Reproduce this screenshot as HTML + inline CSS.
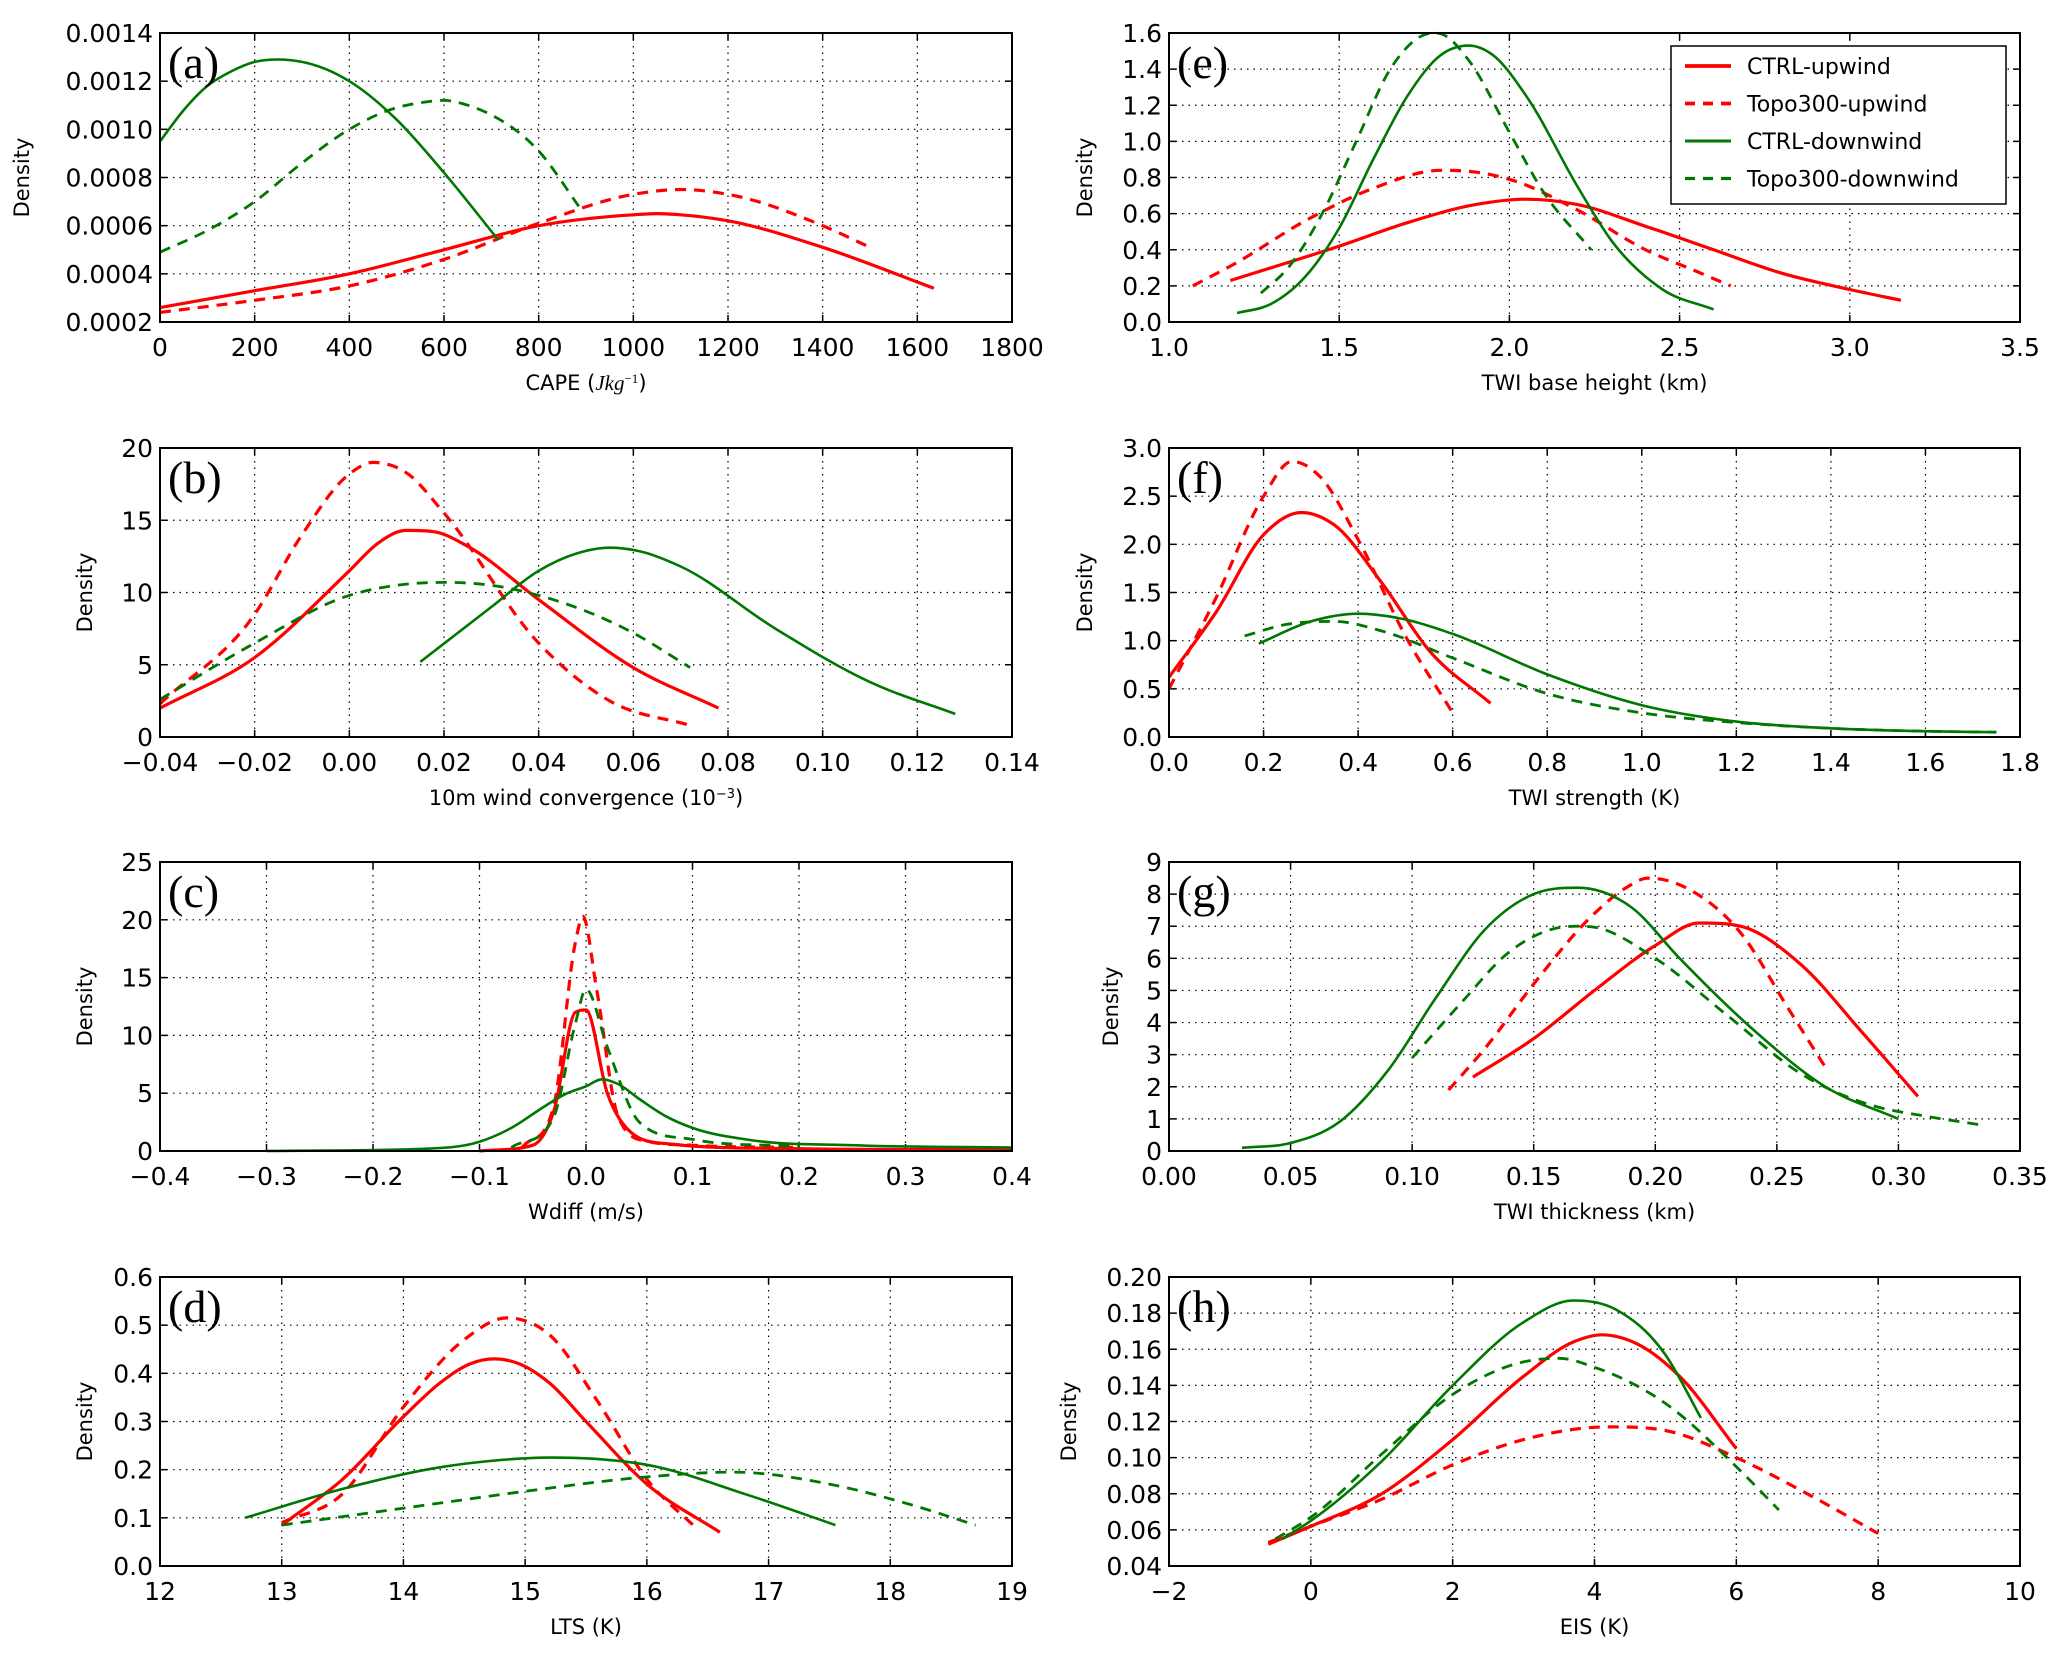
<!DOCTYPE html>
<html><head><meta charset="utf-8">
<style>
html,body{margin:0;padding:0;background:#fff;}
svg{display:block;font-family:"DejaVu Sans","Liberation Sans",sans-serif;}
</style></head>
<body>
<svg id="fig" width="2067" height="1654" viewBox="0 0 2067 1654" xmlns="http://www.w3.org/2000/svg"></svg>
<script>
// ---- data ----
const seriesNames = ["CTRL-upwind","Topo300-upwind","CTRL-downwind","Topo300-downwind"];
// panel a: CAPE
const aCtrlUpX=[0,200,400,600,800,1000,1050,1100,1200,1400,1635];
const aCtrlUpY=[0.00026,0.00033,0.00040,0.00050,0.00060,0.000645,0.00065,0.000645,0.00062,0.00051,0.00034];
const aTopoUpX=[0,200,400,600,800,1000,1100,1200,1400,1500];
const aTopoUpY=[0.00024,0.00029,0.00035,0.00046,0.00061,0.00073,0.00075,0.00073,0.00060,0.00051];
const aCtrlDnX=[0,50,100,150,200,250,300,350,400,500,600,715];
const aCtrlDnY=[0.00095,0.00108,0.00118,0.00124,0.00128,0.00129,0.00128,0.00125,0.00120,0.00104,0.00082,0.00054];
const aTopoDnX=[0,100,200,300,400,500,550,600,650,700,800,885];
const aTopoDnY=[0.00049,0.00058,0.00070,0.00086,0.00100,0.00109,0.00111,0.00112,0.00110,0.00106,0.00091,0.00068];
// panel b: wind convergence
const bCtrlUpX=[-0.04,-0.02,0,0.006,0.012,0.018,0.025,0.04,0.06,0.078];
const bCtrlUpY=[2,5.5,11.5,13.4,14.3,14.2,13.2,9.5,4.8,2];
const bTopoUpX=[-0.04,-0.02,-0.01,0,0.005,0.012,0.02,0.04,0.055,0.072];
const bTopoUpY=[2.3,8.5,14,18.2,19,18.3,15.5,6.5,2.5,0.8];
const bCtrlDnX=[0.015,0.03,0.04,0.048,0.055,0.062,0.07,0.09,0.11,0.128];
const bCtrlDnY=[5.2,9,11.5,12.7,13.1,12.8,11.8,7.5,3.8,1.6];
const bTopoDnX=[-0.04,-0.02,0,0.01,0.02,0.03,0.04,0.06,0.072];
const bTopoDnY=[2.6,6.5,9.8,10.5,10.7,10.5,9.8,7.2,4.8];
// panel c: Wdiff
const cCtrlUpX=[-0.1,-0.05,-0.03,-0.01,0,0.02,0.04,0.08,0.2,0.4];
const cCtrlUpY=[0,0.5,3.5,12,12.2,5,1.8,0.6,0.2,0.1];
const cTopoUpX=[-0.06,-0.03,-0.01,-0.003,0.01,0.03,0.06,0.1,0.2];
const cTopoUpY=[0.3,4,18,20.3,14,3,0.8,0.5,0.3];
const cCtrlDnX=[-0.3,-0.15,-0.1,-0.07,-0.04,-0.02,0,0.015,0.03,0.05,0.075,0.1,0.15,0.25,0.4];
const cCtrlDnY=[0,0.2,0.8,2.0,3.8,4.9,5.6,6.2,5.8,4.5,3.0,2,1,0.5,0.3];
const cTopoDnX=[-0.07,-0.03,-0.01,0,0.02,0.05,0.1,0.2];
const cTopoDnY=[0.3,3,11,14,9,2.5,1,0.4];
// panel d: LTS
const dCtrlUpX=[13,13.5,14,14.3,14.55,14.75,14.95,15.2,15.5,16,16.6];
const dCtrlUpY=[0.085,0.18,0.31,0.38,0.42,0.43,0.42,0.38,0.3,0.17,0.07];
const dTopoUpX=[13,13.5,14,14.5,14.85,15.2,15.6,16,16.4];
const dTopoUpY=[0.09,0.15,0.33,0.47,0.515,0.48,0.34,0.18,0.08];
const dCtrlDnX=[12.7,13.5,14.3,14.8,15.2,15.6,16,16.8,17.55];
const dCtrlDnY=[0.1,0.16,0.205,0.22,0.225,0.222,0.21,0.15,0.085];
const dTopoDnX=[13,14,15,16,16.7,17.5,18.2,18.7];
const dTopoDnY=[0.085,0.12,0.155,0.185,0.195,0.17,0.125,0.085];
// panel e: TWI base height
const eCtrlUpX=[1.18,1.3,1.5,1.7,1.9,2.05,2.2,2.4,2.6,2.8,3.0,3.15];
const eCtrlUpY=[0.23,0.3,0.42,0.55,0.65,0.68,0.65,0.53,0.4,0.27,0.18,0.12];
const eTopoUpX=[1.07,1.2,1.4,1.6,1.8,1.9,2.0,2.2,2.4,2.55,2.65];
const eTopoUpY=[0.2,0.33,0.56,0.74,0.84,0.83,0.79,0.62,0.4,0.28,0.2];
const eCtrlDnX=[1.2,1.3,1.4,1.5,1.6,1.7,1.8,1.88,1.95,2.05,2.2,2.3,2.45,2.6];
const eCtrlDnY=[0.05,0.1,0.25,0.52,0.9,1.25,1.48,1.53,1.48,1.25,0.75,0.45,0.18,0.07];
const eTopoDnX=[1.27,1.35,1.45,1.55,1.65,1.75,1.78,1.8,1.88,2.0,2.1,2.24];
const eTopoDnY=[0.16,0.3,0.6,1.0,1.4,1.59,1.6,1.595,1.45,1.05,0.72,0.4];
// panel f: TWI strength
const fCtrlUpX=[0,0.1,0.2,0.28,0.35,0.45,0.55,0.68];
const fCtrlUpY=[0.62,1.3,2.1,2.33,2.2,1.6,0.9,0.35];
const fTopoUpX=[0,0.1,0.2,0.26,0.32,0.4,0.5,0.6];
const fTopoUpY=[0.5,1.45,2.5,2.86,2.7,2.05,1.05,0.25];
const fCtrlDnX=[0.19,0.3,0.4,0.5,0.6,0.8,1.0,1.2,1.4,1.6,1.75];
const fCtrlDnY=[0.97,1.2,1.28,1.22,1.07,0.65,0.33,0.16,0.09,0.06,0.05];
const fTopoDnX=[0.16,0.25,0.35,0.45,0.6,0.8,1.0,1.2,1.4,1.6,1.75];
const fTopoDnY=[1.05,1.17,1.2,1.1,0.82,0.45,0.25,0.15,0.09,0.06,0.05];
// panel g: TWI thickness
const gCtrlUpX=[0.125,0.15,0.175,0.2,0.218,0.235,0.26,0.285,0.308];
const gCtrlUpY=[2.3,3.5,5.0,6.4,7.1,7.0,5.8,3.7,1.7];
const gTopoUpX=[0.115,0.13,0.15,0.175,0.188,0.197,0.206,0.215,0.235,0.255,0.27];
const gTopoUpY=[1.9,3.2,5.2,7.4,8.2,8.5,8.4,8.1,6.8,4.4,2.6];
const gCtrlDnX=[0.03,0.05,0.07,0.09,0.11,0.13,0.15,0.168,0.19,0.21,0.24,0.27,0.3];
const gCtrlDnY=[0.1,0.25,0.9,2.5,4.8,6.9,8.0,8.2,7.6,6.0,3.8,2.0,1.0];
const gTopoDnX=[0.1,0.12,0.14,0.16,0.168,0.175,0.2,0.23,0.26,0.29,0.31,0.335];
const gTopoDnY=[2.9,4.6,6.2,6.95,7.0,6.97,6.0,4.2,2.4,1.4,1.1,0.8];
// panel h: EIS
const hCtrlUpX=[-0.6,0,1,2,3,3.7,4.1,4.6,5.2,6];
const hCtrlUpY=[0.052,0.062,0.08,0.11,0.145,0.164,0.168,0.163,0.145,0.105];
const hTopoUpX=[-0.6,0,1,2,3,4.2,5,6,7,8];
const hTopoUpY=[0.053,0.062,0.077,0.096,0.11,0.117,0.115,0.1,0.08,0.058];
const hCtrlDnX=[-0.4,0,1,2,3,3.7,4.3,5,5.5];
const hCtrlDnY=[0.055,0.065,0.098,0.14,0.175,0.187,0.182,0.157,0.122];
const hTopoDnX=[-0.5,0,1,2,3,3.5,4,5,6,6.6];
const hTopoDnY=[0.055,0.067,0.102,0.135,0.153,0.155,0.15,0.13,0.095,0.071];
// tick labels
const aXTicks=["0","200","400","600","800","1000","1200","1400","1600","1800"];
const aYTicks=["0.0002","0.0004","0.0006","0.0008","0.0010","0.0012","0.0014"];
const bXTicks=["\u22120.04","\u22120.02","0.00","0.02","0.04","0.06","0.08","0.10","0.12","0.14"];
const bYTicks=["0","5","10","15","20"];
const cXTicks=["\u22120.4","\u22120.3","\u22120.2","\u22120.1","0.0","0.1","0.2","0.3","0.4"];
const cYTicks=["0","5","10","15","20","25"];
const dXTicks=["12","13","14","15","16","17","18","19"];
const dYTicks=["0.0","0.1","0.2","0.3","0.4","0.5","0.6"];
const eXTicks=["1.0","1.5","2.0","2.5","3.0","3.5"];
const eYTicks=["0.0","0.2","0.4","0.6","0.8","1.0","1.2","1.4","1.6"];
const fXTicks=["0.0","0.2","0.4","0.6","0.8","1.0","1.2","1.4","1.6","1.8"];
const fYTicks=["0.0","0.5","1.0","1.5","2.0","2.5","3.0"];
const gXTicks=["0.00","0.05","0.10","0.15","0.20","0.25","0.30","0.35"];
const gYTicks=["0","1","2","3","4","5","6","7","8","9"];
const hXTicks=["\u22122","0","2","4","6","8","10"];
const hYTicks=["0.04","0.06","0.08","0.10","0.12","0.14","0.16","0.18","0.20"];

const NS="http://www.w3.org/2000/svg";
const svg=document.getElementById('fig');
function mk(tag,attrs,parent){const e=document.createElementNS(NS,tag);for(const k in attrs)e.setAttribute(k,attrs[k]);(parent||svg).appendChild(e);return e;}
function num(s){return parseFloat(s.replace('\u2212','-'));}

const colors=["#ff0000","#ff0000","#007700","#007700"];
const dashes=[null,"11,8",null,"11,8"];
const widths=[3.2,3.2,2.6,2.8];

const panels=[
 {id:"a",x0:160,x1:1012,y0:33,y1:322,xt:aXTicks,yt:aYTicks,xl:'CAPE (<tspan font-family="Liberation Serif" font-style="italic">Jkg</tspan><tspan font-family="Liberation Serif" baseline-shift="super" font-size="13">\u22121</tspan>)',yl:29,
  s:[[aCtrlUpX,aCtrlUpY],[aTopoUpX,aTopoUpY],[aCtrlDnX,aCtrlDnY],[aTopoDnX,aTopoDnY]]},
 {id:"b",x0:160,x1:1012,y0:448,y1:737,xt:bXTicks,yt:bYTicks,xl:'10m wind convergence (10<tspan baseline-shift="super" font-size="13">\u22123</tspan>)',yl:92,
  s:[[bCtrlUpX,bCtrlUpY],[bTopoUpX,bTopoUpY],[bCtrlDnX,bCtrlDnY],[bTopoDnX,bTopoDnY]]},
 {id:"c",x0:160,x1:1012,y0:862,y1:1151,xt:cXTicks,yt:cYTicks,xl:'Wdiff (m/s)',yl:92,
  s:[[cCtrlUpX,cCtrlUpY],[cTopoUpX,cTopoUpY],[cCtrlDnX,cCtrlDnY],[cTopoDnX,cTopoDnY]]},
 {id:"d",x0:160,x1:1012,y0:1277,y1:1566,xt:dXTicks,yt:dYTicks,xl:'LTS (K)',yl:92,
  s:[[dCtrlUpX,dCtrlUpY],[dTopoUpX,dTopoUpY],[dCtrlDnX,dCtrlDnY],[dTopoDnX,dTopoDnY]]},
 {id:"e",x0:1169,x1:2020,y0:33,y1:322,xt:eXTicks,yt:eYTicks,xl:'TWI base height (km)',yl:1092,legend:true,
  s:[[eCtrlUpX,eCtrlUpY],[eTopoUpX,eTopoUpY],[eCtrlDnX,eCtrlDnY],[eTopoDnX,eTopoDnY]]},
 {id:"f",x0:1169,x1:2020,y0:448,y1:737,xt:fXTicks,yt:fYTicks,xl:'TWI strength (K)',yl:1092,
  s:[[fCtrlUpX,fCtrlUpY],[fTopoUpX,fTopoUpY],[fCtrlDnX,fCtrlDnY],[fTopoDnX,fTopoDnY]]},
 {id:"g",x0:1169,x1:2020,y0:862,y1:1151,xt:gXTicks,yt:gYTicks,xl:'TWI thickness (km)',yl:1118,
  s:[[gCtrlUpX,gCtrlUpY],[gTopoUpX,gTopoUpY],[gCtrlDnX,gCtrlDnY],[gTopoDnX,gTopoDnY]]},
 {id:"h",x0:1169,x1:2020,y0:1277,y1:1566,xt:hXTicks,yt:hYTicks,xl:'EIS (K)',yl:1076,
  s:[[hCtrlUpX,hCtrlUpY],[hTopoUpX,hTopoUpY],[hCtrlDnX,hCtrlDnY],[hTopoDnX,hTopoDnY]]}
];

// monotone cubic Hermite (no overshoot)
function smoothPath(pts){
  const n=pts.length;
  if(n<2)return"";
  const m=[];
  for(let i=0;i<n;i++){
    if(i===0) m.push((pts[1][1]-pts[0][1])/(pts[1][0]-pts[0][0]));
    else if(i===n-1) m.push((pts[n-1][1]-pts[n-2][1])/(pts[n-1][0]-pts[n-2][0]));
    else{
      const d0=(pts[i][1]-pts[i-1][1])/(pts[i][0]-pts[i-1][0]);
      const d1=(pts[i+1][1]-pts[i][1])/(pts[i+1][0]-pts[i][0]);
      if(d0*d1<=0){m.push(0);continue;}
      const h0=pts[i][0]-pts[i-1][0],h1=pts[i+1][0]-pts[i][0];
      let s=(d0*h1+d1*h0)/(h0+h1);
      const lim=3*Math.min(Math.abs(d0),Math.abs(d1));
      if(Math.abs(s)>lim)s=Math.sign(s)*lim;
      m.push(s);
    }
  }
  let d="M"+pts[0][0].toFixed(1)+","+pts[0][1].toFixed(1);
  for(let i=0;i<n-1;i++){
    const h=(pts[i+1][0]-pts[i][0])/3;
    d+=" C"+(pts[i][0]+h).toFixed(1)+","+(pts[i][1]+m[i]*h).toFixed(1)+" "+(pts[i+1][0]-h).toFixed(1)+","+(pts[i+1][1]-m[i+1]*h).toFixed(1)+" "+pts[i+1][0].toFixed(1)+","+pts[i+1][1].toFixed(1);
  }
  return d;
}

panels.forEach(p=>{
  const g=mk('g',{});
  
  
  const xmin=num(p.xt[0]),xmax=num(p.xt[p.xt.length-1]);
  const ymin=num(p.yt[0]),ymax=num(p.yt[p.yt.length-1]);
  const sx=v=>p.x0+(v-xmin)/(xmax-xmin)*(p.x1-p.x0);
  const sy=v=>p.y1-(v-ymin)/(ymax-ymin)*(p.y1-p.y0);
  const grid=mk('g',{},g);
  
  
  p.xt.forEach((t,i)=>{
    const x=sx(num(t));
    if(i>0&&i<p.xt.length-1) mk('line',{x1:x,y1:p.y0,x2:x,y2:p.y1,stroke:"#000","stroke-width":1.2,"stroke-dasharray":"1.5,5"},grid);
    mk('line',{x1:x,y1:p.y1,x2:x,y2:p.y1-7,stroke:"#000","stroke-width":1.5},grid);
    mk('line',{x1:x,y1:p.y0,x2:x,y2:p.y0+7,stroke:"#000","stroke-width":1.5},grid);
    const tx=mk('text',{x:x,y:p.y1+34,"text-anchor":"middle","font-size":25,fill:"#000"},g);
    tx.textContent=t;
    
    
  });
  p.yt.forEach((t,i)=>{
    const y=sy(num(t));
    if(i>0&&i<p.yt.length-1) mk('line',{x1:p.x0,y1:y,x2:p.x1,y2:y,stroke:"#000","stroke-width":1.2,"stroke-dasharray":"1.5,5"},grid);
    mk('line',{x1:p.x0,y1:y,x2:p.x0+7,y2:y,stroke:"#000","stroke-width":1.5},grid);
    mk('line',{x1:p.x1,y1:y,x2:p.x1-7,y2:y,stroke:"#000","stroke-width":1.5},grid);
    const ty=mk('text',{x:p.x0-7,y:y+9,"text-anchor":"end","font-size":25,fill:"#000"},g);
    ty.textContent=t;
    
    
  });
  p.s.forEach((sr,k)=>{
    const pts=sr[0].map((xv,i)=>[sx(xv),sy(sr[1][i])]);
    const a={d:smoothPath(pts),fill:"none",stroke:colors[k],"stroke-width":widths[k],"stroke-linejoin":"round"};
    if(dashes[k])a["stroke-dasharray"]=dashes[k];
    const path=mk('path',a,g);
    
    
  });
  const fr=mk('rect',{x:p.x0,y:p.y0,width:p.x1-p.x0,height:p.y1-p.y0,fill:"none",stroke:"#000","stroke-width":2},g);
  
  
  const lab=mk('text',{x:p.x0+8,y:p.y0+45,"font-size":46,"font-family":"Liberation Serif, serif",fill:"#000"},g);
  lab.textContent="("+p.id+")";
  
  
  const xl=mk('text',{x:(p.x0+p.x1)/2,y:p.y1+68,"text-anchor":"middle","font-size":21,fill:"#000"},g);
  xl.innerHTML=p.xl;
  
  
  const yc=(p.y0+p.y1)/2;
  const yl=mk('text',{x:p.yl,y:yc,"text-anchor":"middle","font-size":21,fill:"#000",transform:"rotate(-90 "+p.yl+" "+yc+")"},g);
  yl.textContent="Density";
  
  
  if(p.legend){
    const lg=mk('g',{},g);
    
    
    mk('rect',{x:1671,y:46,width:335,height:158,fill:"#fff",stroke:"#000","stroke-width":1.5},lg);
    seriesNames.forEach((n,k)=>{
      const y=66+k*37.5;
      const la={x1:1685,y1:y,x2:1731,y2:y,stroke:colors[k],"stroke-width":widths[k]+0.5};
      if(dashes[k])la["stroke-dasharray"]="10,8";
      const ln=mk('line',la,lg);
      
      
      const t=mk('text',{x:1747,y:y+8,"font-size":22,fill:"#000"},lg);
      t.textContent=n;
      
      
    });
  }
});
</script>
</body></html>
